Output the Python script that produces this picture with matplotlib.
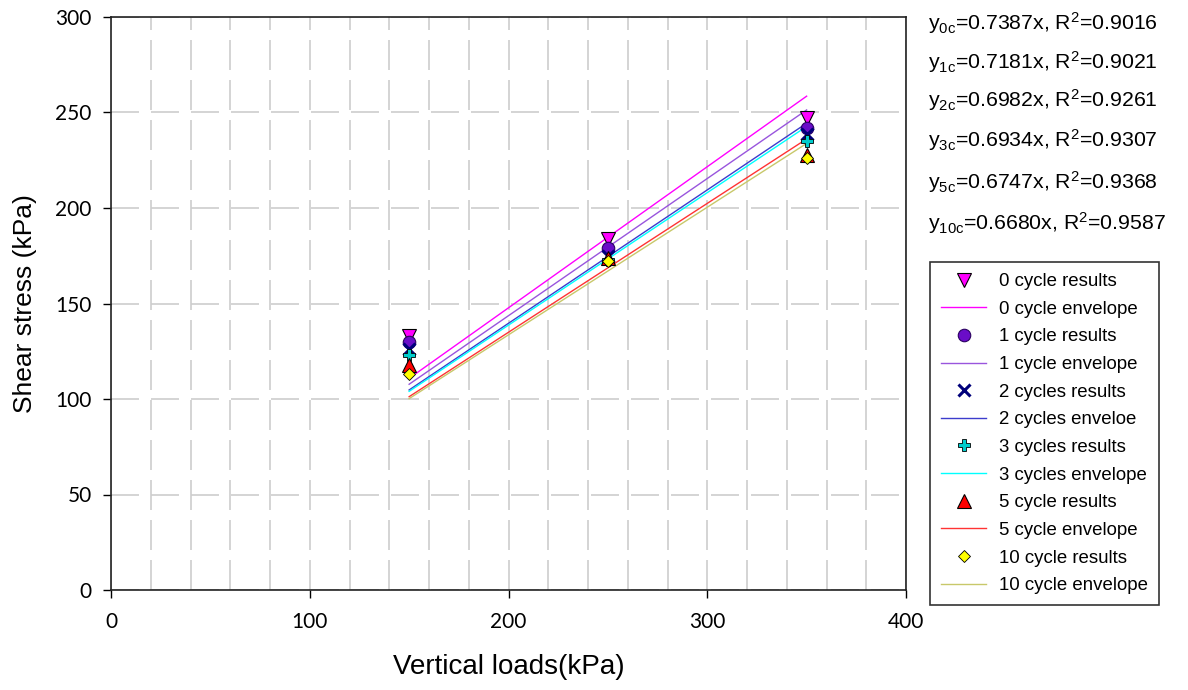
import matplotlib
matplotlib.use("Agg")
import matplotlib.pyplot as plt
from matplotlib.ticker import MultipleLocator

plt.rcParams["font.family"] = ["Liberation Sans", "DejaVu Sans"]
plt.rcParams["mathtext.default"] = "regular"

# data
loads = [150, 250, 350]
cycles = ["0", "1", "2", "3", "5", "10"]
results = {
    "0": [133, 184, 247],
    "1": [130, 179, 242],
    "2": [126, 175, 239],
    "3": [123, 173, 235],
    "5": [118, 174, 228],
    "10": [113, 172, 226],
}
slopes = [0.7387, 0.7181, 0.6982, 0.6934, 0.6747, 0.6680]
r2 = [0.9016, 0.9021, 0.9261, 0.9307, 0.9368, 0.9587]
result_labels = ["0 cycle results", "1 cycle results", "2 cycles results",
                 "3 cycles results", "5 cycle results", "10 cycle results"]
envelope_labels = ["0 cycle envelope", "1 cycle envelope", "2 cycles enveloe",
                   "3 cycles envelope", "5 cycle envelope", "10 cycle envelope"]

line_colors = ["#ff00ff", "#9955dd", "#3c3ccc", "#00ffff", "#ff3333", "#c8c86a"]
marker_styles = [
    dict(marker="v", ms=10, mfc="#ff00ff", mec="black", mew=0.8),
    dict(marker="o", ms=9, mfc="#6a0dc8", mec="#2a0060", mew=0.8),
    dict(marker="x", ms=8, mfc="#00007a", mec="#00007a", mew=2.2),
    dict(marker="P", ms=8, mfc="#00cccc", mec="black", mew=0.6),
    dict(marker="^", ms=10, mfc="#ff0000", mec="black", mew=0.8),
    dict(marker="D", ms=6, mfc="#ffff00", mec="black", mew=0.6),
]

fig = plt.figure(figsize=(11.88, 6.9), dpi=100)
ax = fig.add_axes([111 / 1188, 1 - 590 / 690, 795 / 1188, 573 / 690])

handles = []
for i, c in enumerate(cycles):
    xs = [loads[0], loads[-1]]
    (ln,) = ax.plot(xs, [slopes[i] * x for x in xs], color=line_colors[i],
                    lw=1.0, zorder=3, label=envelope_labels[i])
    (pt,) = ax.plot(loads, results[c], ls="none", zorder=5,
                    label=result_labels[i], **marker_styles[i])
    handles += [pt, ln]

ax.set_xlim(0, 400)
ax.set_ylim(0, 300)
ax.xaxis.set_major_locator(MultipleLocator(100))
ax.xaxis.set_minor_locator(MultipleLocator(20))
ax.yaxis.set_major_locator(MultipleLocator(50))
ax.tick_params(axis="both", which="major", direction="out", length=6,
               width=1, labelsize=15)
ax.tick_params(axis="x", which="minor", length=0)
ax.tick_params(axis="x", pad=10)
ax.tick_params(axis="y", pad=8)
for lab in ax.get_xticklabels() + ax.get_yticklabels():
    lab.set_family(["Lato", "DejaVu Sans"])

grid_kw = dict(color="#cdcdcd", lw=1.2)
ax.grid(True, which="minor", axis="x", ls=(0, (18, 6)), **grid_kw)
ax.grid(True, which="major", axis="x", ls=(0, (18, 6)), **grid_kw)
ax.grid(True, which="major", axis="y", ls=(0, (16.8, 7.2)), **grid_kw)
ax.set_axisbelow(True)
for s in ax.spines.values():
    s.set_linewidth(1.2)
    s.set_color("#222222")

ax.set_ylabel("Shear stress (kPa)", fontsize=19, labelpad=13)
ax.set_xlabel("Vertical loads(kPa)", fontsize=20, labelpad=16)

# equations
eq_y = [23, 62, 100, 140, 182, 223]
for i, c in enumerate(cycles):
    fig.text(928 / 1188, 1 - eq_y[i] / 690,
             "y$_{%sc}$=%.4fx, R$^{2}$=%.4f" % (c, slopes[i], r2[i]),
             fontsize=15.3, va="center", ha="left")

leg = fig.legend(handles=handles, loc="upper left",
                 bbox_to_anchor=(930 / 1188, 1 - 262 / 690),
                 borderaxespad=0, fontsize=13.4, frameon=True, fancybox=False,
                 edgecolor="black", handlelength=2.4, handletextpad=0.7,
                 labelspacing=0.57, borderpad=0.6, numpoints=1)
leg.get_frame().set_linewidth(1.2)

fig.savefig("out.png", dpi=100)
